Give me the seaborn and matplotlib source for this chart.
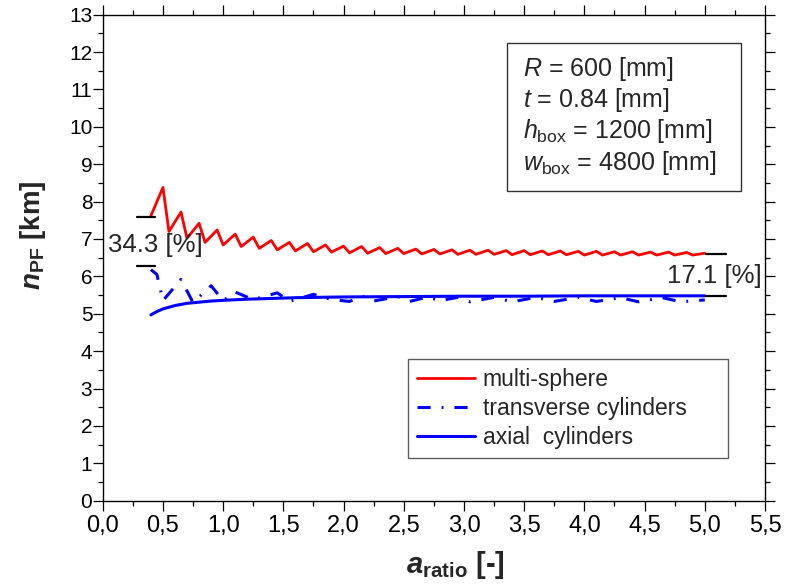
import matplotlib
matplotlib.use("Agg")
import matplotlib.pyplot as plt
import matplotlib.patches as mpatches
from matplotlib import font_manager
from matplotlib.ticker import MultipleLocator, FuncFormatter
import pandas as pd
import seaborn as sns

# ---------------------------------------------------------------
# data
# ---------------------------------------------------------------
multi_x = [0.40, 0.50, 0.55, 0.65, 0.70, 0.80, 0.85, 0.95, 1.00, 1.10, 1.15,
           1.25, 1.30, 1.40, 1.45, 1.55, 1.60, 1.70, 1.75, 1.85, 1.90, 2.00,
           2.05, 2.15, 2.20, 2.30, 2.35, 2.45, 2.50, 2.60, 2.65, 2.75, 2.80,
           2.90, 2.95, 3.05, 3.10, 3.20, 3.25, 3.35, 3.40, 3.50, 3.55, 3.65,
           3.70, 3.80, 3.85, 3.95, 4.00, 4.10, 4.15, 4.25, 4.30, 4.40, 4.45,
           4.55, 4.60, 4.70, 4.75, 4.85, 4.90, 5.00]
multi_y = [7.62, 8.38, 7.20, 7.72, 7.02, 7.42, 6.91, 7.24, 6.84, 7.13, 6.80,
           7.05, 6.75, 6.96, 6.71, 6.91, 6.68, 6.88, 6.66, 6.84, 6.65, 6.81,
           6.63, 6.80, 6.62, 6.77, 6.61, 6.75, 6.61, 6.73, 6.60, 6.72, 6.60,
           6.71, 6.59, 6.70, 6.59, 6.70, 6.59, 6.69, 6.58, 6.69, 6.58, 6.68,
           6.58, 6.68, 6.58, 6.67, 6.57, 6.67, 6.57, 6.66, 6.57, 6.66, 6.57,
           6.65, 6.57, 6.65, 6.57, 6.64, 6.57, 6.62]

trans_x = [0.40, 0.45, 0.50, 0.65, 0.75, 0.90, 1.00, 1.10, 1.25, 1.45, 1.55,
           1.75, 1.90, 2.05, 2.15, 2.25, 2.45, 2.55, 2.70, 2.80, 2.95, 3.05,
           3.25, 3.40, 3.60, 3.75, 3.95, 4.10, 4.30, 4.45, 4.65, 4.80, 5.00]
trans_y = [6.18, 6.05, 5.35, 5.92, 5.30, 5.75, 5.35, 5.58, 5.38, 5.56, 5.33,
           5.52, 5.38, 5.33, 5.48, 5.34, 5.46, 5.33, 5.45, 5.35, 5.44, 5.32,
           5.44, 5.32, 5.44, 5.33, 5.44, 5.33, 5.43, 5.32, 5.43, 5.32, 5.37]

axial_x = [0.40, 0.45, 0.50, 0.60, 0.70, 0.80, 0.90, 1.00, 1.20, 1.40, 1.60,
           1.80, 2.00, 2.50, 3.00, 3.50, 4.00, 4.50, 5.00]
axial_y = [4.97, 5.06, 5.13, 5.22, 5.28, 5.31, 5.34, 5.36, 5.39, 5.41, 5.43,
           5.44, 5.45, 5.46, 5.47, 5.47, 5.48, 5.48, 5.48]

series_names = ["multi-sphere", "transverse cylinders", "axial  cylinders"]

# difference markers (left: start of curves, right: end of curves)
left_marks = [7.60, 6.28]
right_marks = [6.59, 5.48]
left_label = "34.3 [%]"
right_label = "17.1 [%]"

box_lines = [r"$R$ = 600 [mm]",
             r"$t$ = 0.84 [mm]",
             r"$h_{\mathrm{box}}$ = 1200 [mm]",
             r"$w_{\mathrm{box}}$ = 4800 [mm]"]

# ---------------------------------------------------------------
# style
# ---------------------------------------------------------------
sns.set_style("ticks")
plt.rcParams.update({
    "font.family": ["Liberation Sans", "DejaVu Sans"],
    "mathtext.fontset": "custom",
    "mathtext.rm": "Liberation Sans",
    "mathtext.it": "Liberation Sans:italic",
    "mathtext.bf": "Liberation Sans:bold",
    "mathtext.bfit": "Liberation Sans:italic:bold",
    "axes.edgecolor": "black",
    "axes.linewidth": 1.0,
})

try:
    font_manager.findfont("Liberation Sans Narrow", fallback_to_default=False)
    narrow = "Liberation Sans Narrow"
except Exception:
    narrow = "Liberation Sans"

df_multi = pd.DataFrame({"a": multi_x, "n": multi_y})
df_trans = pd.DataFrame({"a": trans_x, "n": trans_y})
df_axial = pd.DataFrame({"a": axial_x, "n": axial_y})

fig = plt.figure(figsize=(7.86, 5.87), dpi=100)
ax = fig.add_axes([0.1307, 0.147, 0.8426, 0.828])

sns.lineplot(data=df_multi, x="a", y="n", ax=ax, color="#ff0000", lw=2.0,
             label=series_names[0], estimator=None)
sns.lineplot(data=df_trans, x="a", y="n", ax=ax, color="#0000ff", lw=2.2,
             linestyle=(0, (4.3, 3.6, 0.6, 3.6)), label=series_names[1],
             estimator=None)
sns.lineplot(data=df_axial, x="a", y="n", ax=ax, color="#0000ff", lw=2.2,
             label=series_names[2], estimator=None)

# difference markers
for yv in left_marks:
    ax.plot([multi_x[0] - 0.115, multi_x[0] + 0.03], [yv, yv], color="black", lw=1.6)
for yv in right_marks:
    ax.plot([multi_x[-1] + 0.01, multi_x[-1] + 0.18], [yv, yv], color="black", lw=1.6)
ax.text(0.045, 6.85, left_label, fontsize=18.5, ha="left", va="center")
ax.text(5.47, 6.0, right_label, fontsize=18.5, ha="right", va="center")

# parameter box
ax.add_patch(mpatches.Rectangle((0.6105, 0.6379), 0.3528, 0.3045,
                                transform=ax.transAxes, fill=False,
                                edgecolor="#333333", lw=1.0))
for txt, yb in zip(box_lines, [0.8745, 0.8107, 0.7463, 0.6805]):
    ax.text(0.634, yb, txt, transform=ax.transAxes, fontsize=18,
            ha="left", va="baseline")

# axes
ax.set_xlim(0, 5.5)
ax.set_ylim(0, 13)
ax.xaxis.set_major_locator(MultipleLocator(0.5))
ax.xaxis.set_minor_locator(MultipleLocator(0.25))
ax.yaxis.set_major_locator(MultipleLocator(1))
ax.yaxis.set_minor_locator(MultipleLocator(0.5))
ax.xaxis.set_major_formatter(FuncFormatter(lambda v, p: f"{v:.1f}".replace(".", ",")))
ax.tick_params(which="both", direction="out", top=True, right=True, width=0.9,
               colors="black")
ax.tick_params(which="major", length=7)
ax.tick_params(which="minor", length=3.8)
ax.tick_params(axis="y", labelsize=15, pad=0.5)
ax.tick_params(axis="x", labelsize=17, pad=3)
for lab in ax.get_xticklabels():
    lab.set_fontfamily(narrow)
for s in ax.spines.values():
    s.set_visible(True)

ax.set_xlabel(r"$\mathbfit{a}_{\mathbf{ratio}}$ [-]", fontsize=21,
              fontweight="bold")
ax.set_ylabel(r"$\mathbfit{n}_{\mathbf{PF}}$ [km]", fontsize=20,
              fontweight="bold")
ax.xaxis.set_label_coords(0.532, -0.100)
ax.yaxis.set_label_coords(-0.083, 0.547)

leg = ax.legend(loc="upper left", bbox_to_anchor=(0.461, 0.094, 0.483, 0.1976),
                mode="expand", borderaxespad=0, fontsize=16.5, frameon=True,
                fancybox=False, handlelength=2.5, handletextpad=0.35,
                labelspacing=0.25, borderpad=0.4)
leg.get_frame().set_edgecolor("#333333")
leg.get_frame().set_linewidth(1.0)

fig.savefig("out.png", dpi=100)
